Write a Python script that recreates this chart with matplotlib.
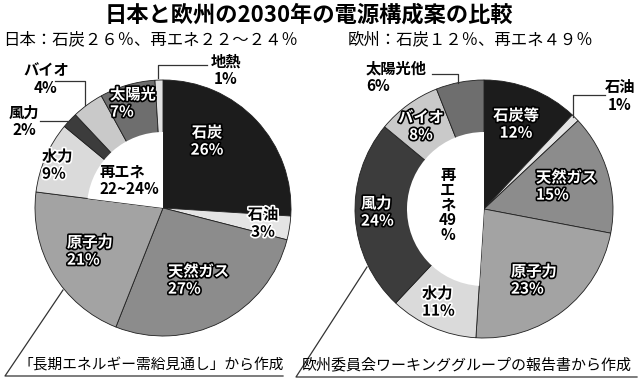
import matplotlib
matplotlib.use("Agg")
import matplotlib.pyplot as plt
import matplotlib.patheffects as pe

plt.rcParams['font.family'] = ['Noto Sans CJK JP', 'DejaVu Sans']

W, H = 640, 383

# 日本（12時から時計回り）
jp_names = ['石炭', '石油', '天然ガス', '原子力', '水力', '風力', 'バイオ', '太陽光', '地熱']
jp_values = [26, 3, 27, 21, 9, 2, 4, 7, 1]
jp_renew = [False, False, False, False, True, True, True, True, True]

# 欧州（12時から時計回り）
eu_names = ['石炭等', '石油', '天然ガス', '原子力', '水力', '風力', 'バイオ', '太陽光他']
eu_values = [12, 1, 15, 23, 11, 24, 8, 6]
eu_renew = [False, False, False, False, True, True, True, True]

jp_center_text = '再エネ\n22~24%'
eu_center_text = '再\nエ\nネ\n49\n%'

title = '日本と欧州の2030年の電源構成案の比較'
jp_sub = '日本：石炭２６％、再エネ２２～２４％'
eu_sub = '欧州：石炭１２％、再エネ４９％'
jp_src = '「長期エネルギー需給見通し」から作成'
eu_src = '欧州委員会ワーキンググループの報告書から作成'

# 色（グレースケール）
gray = {
    '石炭': '#1c1c1c', '石炭等': '#1c1c1c', '石油': '#e4e4e4', '天然ガス': '#8c8c8c',
    '原子力': '#a3a3a3', '水力': '#dadada', '風力': '#3c3c3c', 'バイオ': '#c9c9c9',
    '太陽光': '#6e6e6e', '太陽光他': '#6e6e6e', '地熱': '#e2e2e2',
}

# ラベル位置 (x, y, ha, スタイル)  w:白抜き b:黒字白縁 p:普通
jp_pos = [(207, 141, 'center', 'w'), (263, 223, 'center', 'b'), (168, 280, 'left', 'w'),
          (67, 251, 'left', 'w'), (42, 165, 'left', 'b'), (24, 121, 'center', 'p'),
          (46, 79, 'center', 'p'), (110, 103, 'left', 'w'), (226, 70, 'center', 'p')]
eu_pos = [(516, 124, 'center', 'w'), (620, 96, 'center', 'p'), (536, 186, 'left', 'w'),
          (511, 280, 'left', 'w'), (422, 302, 'left', 'b'), (361, 212, 'left', 'w'),
          (421, 126, 'center', 'w'), (366, 77, 'left', 'p')]

# 引き出し線
leaders = [
    [(55, 81), (85, 81), (85, 105)],
    [(40, 121), (68, 121)],
    [(207, 65), (158, 65), (158, 78)],
    [(605, 95), (573, 95), (573, 117)],
    [(432, 74), (458, 74), (458, 83)],
    [(63, 290), (5, 376), (283, 376)],
    [(367, 267), (296, 377), (637, 377)],
]

fig = plt.figure(figsize=(W / 100, H / 100), dpi=100)
ax = fig.add_axes([0, 0, 1, 1])


def donut(values, names, renew, center, r, r_in):
    cols = [gray[n] for n in names]
    ax.pie(values, colors=cols, center=center, radius=r, startangle=-90,
           counterclock=True, frame=True,
           wedgeprops=dict(edgecolor='#202020', linewidth=0.6))
    fossil = sum(v for v, rn in zip(values, renew) if not rn)
    ren = sum(values) - fossil
    ax.pie([fossil, ren], colors=['none', 'white'], center=center, radius=r_in,
           startangle=-90, counterclock=True, frame=True,
           wedgeprops=dict(linewidth=0))


def labels(names, values, pos):
    for n, v, (x, y, ha, st) in zip(names, values, pos):
        if st == 'w':
            kw = dict(color='white', path_effects=[pe.withStroke(linewidth=2.4, foreground='black')])
        elif st == 'b':
            kw = dict(color='black', path_effects=[pe.withStroke(linewidth=2.4, foreground='white')])
        else:
            kw = dict(color='black')
        ax.text(x, y, f'{n}\n{v}%', ha=ha, va='center', ma=ha, fontsize=11,
                fontweight='bold', linespacing=1.1, **kw)


donut(jp_values, jp_names, jp_renew, (163, 208), 128, 76)
donut(eu_values, eu_names, eu_renew, (484, 209), 129, 77)
labels(jp_names, jp_values, jp_pos)
labels(eu_names, eu_values, eu_pos)

ax.text(100, 180, jp_center_text, ha='left', va='center', fontsize=11,
        fontweight='bold', linespacing=1.1)
ax.text(448, 205, eu_center_text, ha='center', va='center', fontsize=11,
        fontweight='bold', linespacing=0.92)

for pts in leaders:
    xs, ys = zip(*pts)
    ax.plot(xs, ys, color='#333333', lw=0.9)

ax.text(309, 15, title, ha='center', va='center', fontsize=16, fontweight='bold')
ax.text(3, 40, jp_sub, ha='left', va='center', fontsize=11.8)
ax.text(348, 40, eu_sub, ha='left', va='center', fontsize=11.8)
ax.text(18, 365, jp_src, ha='left', va='center', fontsize=10.6)
ax.text(302, 365, eu_src, ha='left', va='center', fontsize=10.8)

ax.set_xlim(0, W)
ax.set_ylim(H, 0)
ax.axis('off')

fig.savefig('out.png', dpi=100)
